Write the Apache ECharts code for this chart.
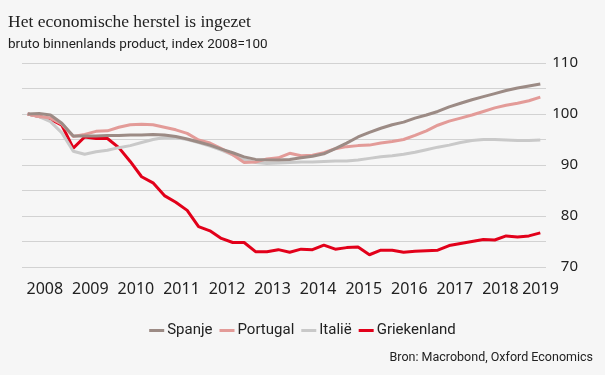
<!DOCTYPE html>
<html>
<head>
<meta charset="utf-8">
<script src="https://cdn.jsdelivr.net/npm/echarts@6/dist/echarts.min.js"></script>
<style>
  html, body { margin: 0; padding: 0; background: #f6f6f6; }
  #chart { width: 605px; height: 375px; }
</style>
</head>
<body>
<div id="chart"></div>
<script>
// kwartalen 2008K1 t/m 2019K2
const quarters = [];
for (let y = 2008; y <= 2019; y++) {
  for (let q = 1; q <= 4; q++) {
    if (y === 2019 && q > 2) break;
    quarters.push(y + ' K' + q);
  }
}
const yearLabels = ['2008', '2009', '2010', '2011', '2012', '2013', '2014', '2015', '2016', '2017', '2018', '2019'];

const spanje = [100, 100.1, 99.8, 98.2, 95.7, 95.7, 95.7, 95.8, 95.8, 95.9, 95.9, 96.0,
  95.9, 95.6, 95.1, 94.5, 93.9, 93.1, 92.4, 91.6, 91.1, 91.0, 91.0, 91.1,
  91.4, 91.7, 92.2, 93.2, 94.3, 95.5, 96.4, 97.2, 97.9, 98.4, 99.2, 99.8,
  100.5, 101.4, 102.1, 102.8, 103.4, 104.0, 104.6, 105.1, 105.5, 105.9];
const portugal = [100, 99.5, 99.2, 98.0, 95.6, 96.0, 96.6, 96.7, 97.4, 97.9, 98.0, 97.9,
  97.4, 96.9, 96.2, 94.9, 94.3, 93.2, 92.0, 90.5, 90.6, 91.2, 91.4, 92.3,
  91.8, 91.9, 92.4, 93.2, 93.6, 93.8, 93.9, 94.3, 94.6, 95.0, 95.8, 96.7,
  97.8, 98.6, 99.2, 99.8, 100.5, 101.2, 101.7, 102.1, 102.6, 103.3];
const italie = [100, 99.5, 98.5, 96.3, 92.7, 92.1, 92.6, 92.9, 93.4, 93.8, 94.4, 95.0,
  95.4, 95.4, 95.0, 94.4, 93.7, 92.9, 92.0, 91.1, 90.5, 90.3, 90.4, 90.5,
  90.6, 90.6, 90.7, 90.8, 90.8, 91.0, 91.3, 91.6, 91.8, 92.1, 92.5, 93.0,
  93.5, 93.9, 94.4, 94.8, 95.0, 95.0, 94.9, 94.8, 94.8, 94.9];
const griekenland = [100, 99.5, 99.0, 97.8, 93.3, 95.5, 95.2, 95.2, 93.4, 90.7, 87.7, 86.5,
  84.0, 82.7, 81.1, 77.9, 77.1, 75.6, 74.8, 74.8, 73.0, 73.0, 73.4, 72.9,
  73.5, 73.4, 74.3, 73.5, 73.8, 73.9, 72.4, 73.3, 73.3, 72.9, 73.1, 73.2,
  73.3, 74.2, 74.6, 75.0, 75.4, 75.3, 76.1, 75.9, 76.1, 76.7];

// x in halve jaren vanaf 2008, punt midden in het kwartaal
function pts(vals) {
  return vals.map((v, i) => [0.25 + 0.5 * i, v]);
}

const chart = echarts.init(document.getElementById('chart'));

const option = {
  backgroundColor: '#f6f6f6',
  animation: false,
  title: [
    {
      text: 'Het economische herstel is ingezet',
      left: 8, top: 13, padding: 0,
      textStyle: { fontFamily: 'Liberation Serif', fontSize: 17.5, fontWeight: 'normal', color: '#222' }
    },
    {
      text: 'bruto binnenlands product, index 2008=100',
      left: 8, top: 38, padding: 0,
      textStyle: { fontFamily: 'Roboto', fontSize: 13.5, fontWeight: 'normal', color: '#222' }
    },
    {
      text: 'Bron: Macrobond, Oxford Economics',
      right: 12, top: 351, padding: 0,
      textStyle: { fontFamily: 'Roboto', fontSize: 12.5, fontWeight: 'normal', color: '#222' }
    }
  ],
  legend: {
    top: 318,
    left: 'center',
    icon: 'rect',
    itemWidth: 15,
    itemHeight: 3,
    itemGap: 7,
    textStyle: { fontFamily: 'Roboto', fontSize: 15, color: '#222', padding: [0, 0, 0, -2] },
    data: ['Spanje', 'Portugal', 'Italië', 'Griekenland']
  },
  grid: { left: 22, right: 59, top: 63, bottom: 108 },
  xAxis: {
    type: 'value',
    min: 0,
    max: 23,
    interval: 1,
    axisLine: { show: false },
    axisTick: { show: false },
    splitLine: { show: false },
    axisLabel: {
      margin: 14,
      fontFamily: 'Noto Sans',
      fontSize: 16,
      color: '#222',
      formatter: function (v) {
        if (v % 2 !== 1) return '';
        const lab = yearLabels[(v - 1) / 2];
        return v === 23 ? '{l|' + lab + '}' : lab;
      },
      rich: { l: { fontFamily: 'Noto Sans', fontSize: 16, color: '#222', padding: [0, 11, 0, 0] } }
    }
  },
  yAxis: {
    type: 'value',
    position: 'right',
    min: 70,
    max: 110,
    interval: 5,
    axisLine: { show: false },
    axisTick: { show: false },
    splitLine: { lineStyle: { color: '#d2d2d2', width: 1.2 } },
    axisLabel: {
      align: 'right',
      margin: 32,
      fontFamily: 'Noto Sans',
      fontSize: 15,
      color: '#222',
      formatter: function (v) { return v % 10 === 0 ? String(v) : ''; }
    }
  },
  series: [
    { name: 'Spanje', type: 'line', data: pts(spanje), symbol: 'none', z: 5,
      lineStyle: { color: '#9c8b85', width: 3 }, itemStyle: { color: '#9c8b85' } },
    { name: 'Portugal', type: 'line', data: pts(portugal), symbol: 'none', z: 4,
      lineStyle: { color: '#e39b98', width: 3 }, itemStyle: { color: '#e39b98' } },
    { name: 'Italië', type: 'line', data: pts(italie), symbol: 'none', z: 3,
      lineStyle: { color: '#c9c9c9', width: 3 }, itemStyle: { color: '#c9c9c9' } },
    { name: 'Griekenland', type: 'line', data: pts(griekenland), symbol: 'none', z: 2,
      lineStyle: { color: '#e2001a', width: 3 }, itemStyle: { color: '#e2001a' } }
  ]
};

chart.setOption(option);
</script>
</body>
</html>
